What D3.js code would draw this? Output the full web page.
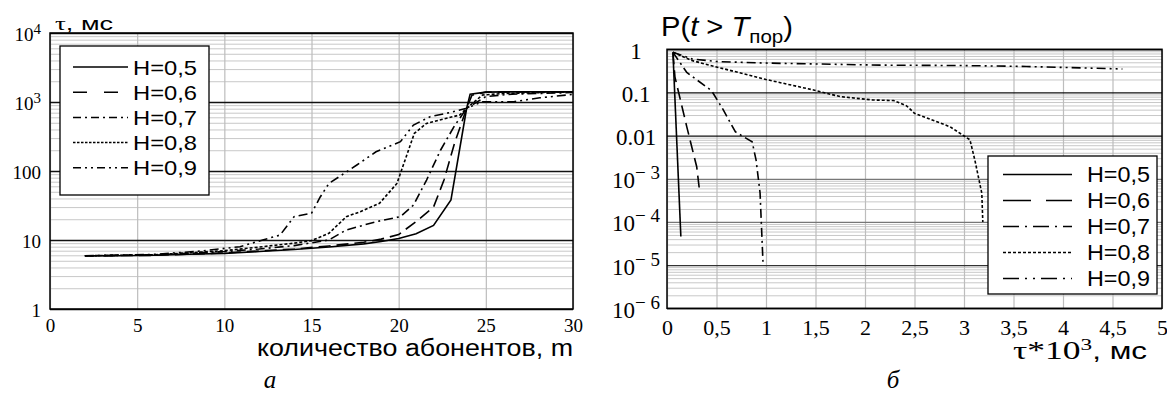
<!DOCTYPE html>
<html>
<head>
<meta charset="utf-8">
<script src="https://cdn.jsdelivr.net/npm/d3@7"></script>
<style>
  body { margin: 0; background: #fff; }
  svg { display: block; }
</style>
</head>
<body>
<script>
// ---- data ----
const seriesNames = ["H=0,5", "H=0,6", "H=0,7", "H=0,8", "H=0,9"];

// panel a: delay tau (ms) vs number of subscribers m
const aXTicks = [0, 5, 10, 15, 20, 25, 30];
const aYTicks = [1, 10, 100, 1000, 10000];
const aYLabels = [["1", ""], ["10", ""], ["100", ""], ["10", "3"], ["10", "4"]];
const aH05 = [[2, 5.9], [4, 5.9], [6, 6.0], [8, 6.2], [10, 6.4], [12, 6.8], [14, 7.3], [16, 7.9], [18, 8.8], [19, 9.5], [20, 10.5], [21, 12.3], [22, 16.3], [23, 38], [23.9, 811], [24.1, 1300], [25, 1390], [26, 1400], [30, 1400]];
const aH06 = [[2, 5.9], [6, 6.0], [10, 6.5], [14, 7.4], [16, 8.2], [18, 9.3], [19, 10.3], [20, 12], [21, 18.5], [22, 30], [22.6, 74], [23.2, 250], [23.9, 811], [24.2, 1250], [25, 1390], [30, 1400]];
const aH07 = [[2, 5.9], [6, 6.1], [10, 6.8], [12, 7.4], [14, 8.3], [15, 9.1], [16, 10], [17, 14], [18.7, 18.4], [20.1, 21.8], [20.85, 32], [21.6, 74], [22.4, 200], [23.2, 450], [23.9, 811], [25, 1200], [26.5, 1300], [30, 1370]];
const aH08 = [[2, 5.9], [6, 6.1], [10, 7.0], [12, 7.9], [14, 9.0], [15, 9.8], [16, 12.5], [17, 21.8], [17.8, 25.7], [18.9, 34], [19.9, 66], [20.9, 352], [21.6, 490], [23.5, 648], [23.9, 811], [24.8, 1260], [26, 1330], [30, 1400]];
const aH09 = [[2, 5.9], [6, 6.2], [8.6, 6.9], [10.9, 8.0], [12.2, 10], [13.2, 11.8], [14, 21.8], [15, 24.4], [15.5, 42], [16, 66], [16.6, 83], [17.6, 122], [18.7, 190], [20.1, 266], [20.85, 464], [21.8, 612], [23, 708], [23.9, 811], [24.8, 1010], [26.6, 1010], [28.1, 1150], [30, 1290]];
const aSeries = [aH05, aH06, aH07, aH08, aH09];

// panel b: probability P(t > T) vs tau*10^3 ms
const bXTicks = [0, 0.5, 1, 1.5, 2, 2.5, 3, 3.5, 4, 4.5, 5];
const bXLabels = ["0", "0,5", "1", "1,5", "2", "2,5", "3", "3,5", "4", "4,5", "5"];
const bYTicks = [1e-6, 1e-5, 1e-4, 1e-3, 0.01, 0.1, 1];
const bYLabels = [["10", "\u2212 6"], ["10", "\u2212 5"], ["10", "\u2212 4"], ["10", "\u2212 3"], ["0.01", ""], ["0.1", ""], ["1", ""]];
const bH05 = [[0.06, 0.85], [0.14, 4.6e-5]];
const bH06 = [[0.06, 0.85], [0.08, 0.23], [0.2, 0.016], [0.3, 0.0019], [0.33, 5e-4]];
const bH07 = [[0.06, 0.85], [0.2, 0.29], [0.45, 0.11], [0.57, 0.039], [0.69, 0.0123], [0.77, 0.0095], [0.86, 0.0072], [0.9, 0.0027], [0.94, 4.7e-4], [0.96, 3.9e-5], [0.97, 1.1e-5]];
const bH08 = [[0.06, 0.85], [0.25, 0.55], [0.5, 0.39], [1.0, 0.2], [1.48, 0.114], [1.75, 0.08], [2.08, 0.067], [2.29, 0.065], [2.42, 0.049], [2.5, 0.033], [2.86, 0.016], [3.06, 0.008], [3.11, 0.0027], [3.18, 4.6e-4], [3.19, 1.0e-4]];
const bH09 = [[0.06, 0.85], [0.25, 0.6], [0.5, 0.52], [1.0, 0.48], [2.15, 0.43], [3.0, 0.42], [3.63, 0.40], [4.6, 0.35]];
const bSeries = [bH05, bH06, bH07, bH08, bH09];

// ---- styles ----
const dashes = ["none", "12,6", "9,4,2,4", "3,2", "9,4,2,4,2,4"];
const sans = "Liberation Sans, Arial, sans-serif";
const serif = "Liberation Serif, Times New Roman, serif";

const svg = d3.select("body").append("svg")
  .attr("width", 1167)
  .attr("height", 396);

function minorTicks(lo, hi) {
  var out = [];
  for (var d = lo; d < hi; d++) {
    for (var k = 2; k <= 9; k++) out.push(k * Math.pow(10, d));
  }
  return out;
}

function drawPanel(cfg) {
  var x = d3.scaleLinear().domain(cfg.xDomain).range([cfg.left, cfg.right]);
  var y = d3.scaleLog().domain(cfg.yDomain).range([cfg.bottom, cfg.top]);
  var w = cfg.right - cfg.left;
  var h = cfg.bottom - cfg.top;
  var g = svg.append("g");

  // minor horizontal grid
  g.append("g")
    .attr("transform", "translate(" + cfg.left + ",0)")
    .call(d3.axisLeft(y).tickValues(cfg.minor).tickSize(-w).tickFormat(""))
    .call(s => s.select(".domain").remove())
    .selectAll("line").attr("stroke", "#c8c8c8").attr("stroke-width", 1);

  // vertical grid
  g.append("g")
    .attr("transform", "translate(0," + cfg.bottom + ")")
    .call(d3.axisBottom(x).tickValues(cfg.xTicks).tickSize(-h).tickFormat(""))
    .call(s => s.select(".domain").remove())
    .selectAll("line").attr("stroke", "#bdbdbd").attr("stroke-width", 1.2);

  // major horizontal grid
  g.append("g")
    .attr("transform", "translate(" + cfg.left + ",0)")
    .call(d3.axisLeft(y).tickValues(cfg.yTicks).tickSize(-w).tickFormat(""))
    .call(s => s.select(".domain").remove())
    .selectAll("line")
    .attr("stroke", d => cfg.majorColor(d))
    .attr("stroke-width", 1.3);

  // frame
  g.append("rect")
    .attr("x", cfg.left).attr("y", cfg.top)
    .attr("width", w).attr("height", h)
    .attr("fill", "none").attr("stroke", "#000").attr("stroke-width", 1.5);

  // curves
  var line = d3.line().x(d => x(d[0])).y(d => y(d[1]));
  g.append("g").selectAll("path")
    .data(cfg.series)
    .join("path")
    .attr("d", line)
    .attr("fill", "none")
    .attr("stroke", "#000")
    .attr("stroke-width", 1.6)
    .attr("stroke-dasharray", (d, i) => dashes[i]);

  // y tick labels
  var yl = g.append("g")
    .attr("transform", "translate(" + cfg.yLabelX + ",0)")
    .call(d3.axisLeft(y).tickValues(cfg.yTicks).tickSize(0).tickFormat(""));
  yl.select(".domain").remove();
  yl.selectAll(".tick text").remove();
  yl.selectAll(".tick").append("text")
    .attr("text-anchor", cfg.yLabelAnchor)
    .attr("y", cfg.yLabelDy)
    .style("font-family", serif)
    .style("font-size", cfg.yLabelSize + "px")
    .attr("fill", "#000")
    .each(function (d, i) {
      var lab = cfg.yLabels[i];
      var t = d3.select(this);
      t.append("tspan").text(lab[0]);
      if (lab[1]) {
        t.append("tspan")
          .attr("dy", -cfg.supRaise)
          .style("font-size", cfg.supSize + "px")
          .text(lab[1]);
      }
    });

  // x tick labels
  var xl = g.append("g")
    .attr("transform", "translate(0," + cfg.bottom + ")")
    .call(d3.axisBottom(x).tickValues(cfg.xTicks).tickSize(0)
      .tickFormat((d, i) => cfg.xLabels[i]));
  xl.select(".domain").remove();
  xl.selectAll(".tick text")
    .attr("y", cfg.xLabelDy)
    .attr("dy", 0)
    .style("font-family", serif)
    .style("font-size", cfg.xLabelSize + "px")
    .attr("fill", "#000");

  // legend
  var L = cfg.legend;
  var lg = g.append("g");
  lg.append("rect")
    .attr("x", L.x).attr("y", L.y)
    .attr("width", L.w).attr("height", L.h)
    .attr("fill", "#fff").attr("stroke", "#000").attr("stroke-width", 1.3);
  var rows = lg.selectAll("g.row")
    .data(seriesNames)
    .join("g")
    .attr("class", "row")
    .attr("transform", (d, i) => "translate(0," + (L.row0 + i * L.step) + ")");
  rows.append("line")
    .attr("x1", L.l1).attr("x2", L.l2)
    .attr("stroke", "#000").attr("stroke-width", 1.5)
    .attr("stroke-dasharray", (d, i) => L.dashes[i]);
  rows.append("text")
    .attr("x", L.tx).attr("y", L.size * 0.36)
    .attr("textLength", L.tw).attr("lengthAdjust", "spacingAndGlyphs")
    .style("font-family", sans).style("font-size", L.size + "px")
    .text(d => d);
}

// panel a
drawPanel({
  left: 50, right: 573, top: 33, bottom: 309,
  xDomain: [0, 30], yDomain: [1, 10000],
  xTicks: aXTicks, xLabels: aXTicks.map(String),
  yTicks: aYTicks, yLabels: aYLabels,
  minor: minorTicks(0, 4),
  majorColor: d => "#111",
  series: aSeries,
  yLabelX: 41, yLabelAnchor: "end", yLabelDy: 7, yLabelSize: 19,
  supRaise: 7, supSize: 15,
  xLabelDy: 23, xLabelSize: 19,
  legend: { x: 60, y: 46, w: 149, h: 149, row0: 67, step: 25.2, l1: 73, l2: 128, tx: 133, tw: 64, size: 21,
    dashes: ["none", "14,17", "8,4,2,4", "2.5,1.5", "8,4,2,4,2,4"] }
});

// panel b
drawPanel({
  left: 667, right: 1162, top: 49.3, bottom: 308.3,
  xDomain: [0, 5], yDomain: [1e-6, 1],
  xTicks: bXTicks, xLabels: bXLabels,
  yTicks: bYTicks, yLabels: bYLabels,
  minor: minorTicks(-6, 0),
  majorColor: d => (d >= 0.01 ? "#111" : (d <= 1e-5 ? "#333" : "#777")),
  series: bSeries,
  yLabelX: 636, yLabelAnchor: "middle", yLabelDy: 9, yLabelSize: 23,
  supRaise: 9, supSize: 19,
  xLabelDy: 27, xLabelSize: 22,
  legend: { x: 988, y: 156, w: 169, h: 138, row0: 174.5, step: 26, l1: 1003, l2: 1072, tx: 1087, tw: 63, size: 22,
    dashes: ["none", "28,15", "16,6,2,6", "3,2", "16,6,2,6,2,6"] }
});

// ---- titles ----
var ta = svg.append("text").attr("x", 55).attr("y", 30)
  .attr("textLength", 58).attr("lengthAdjust", "spacingAndGlyphs")
  .style("font-size", "19px");
ta.append("tspan").style("font-family", serif).text("\u03c4");
ta.append("tspan").style("font-family", sans).text(", \u043c\u0441");

svg.append("text")
  .attr("x", 573).attr("y", 356)
  .attr("text-anchor", "end")
  .attr("textLength", 316).attr("lengthAdjust", "spacingAndGlyphs")
  .style("font-family", sans).style("font-size", "23px")
  .text("\u043a\u043e\u043b\u0438\u0447\u0435\u0441\u0442\u0432\u043e \u0430\u0431\u043e\u043d\u0435\u043d\u0442\u043e\u0432, m");

svg.append("text")
  .attr("x", 270).attr("y", 388)
  .attr("text-anchor", "middle")
  .style("font-family", serif).style("font-style", "italic").style("font-size", "25px")
  .text("\u0430");

var tb = svg.append("text").attr("x", 661).attr("y", 36)
  .attr("textLength", 132).attr("lengthAdjust", "spacingAndGlyphs")
  .style("font-family", sans).style("font-size", "27px");
tb.append("tspan").text("P(");
tb.append("tspan").style("font-style", "italic").text("t");
tb.append("tspan").text(" > ");
tb.append("tspan").style("font-style", "italic").text("T");
tb.append("tspan").style("font-size", "19px").attr("dy", 7).text("\u043f\u043e\u0440");
tb.append("tspan").attr("dy", -7).text(")");

var xb = svg.append("text").attr("x", 1013).attr("y", 359)
  .attr("textLength", 134).attr("lengthAdjust", "spacingAndGlyphs")
  .style("font-size", "26px");
xb.append("tspan").style("font-family", serif).text("\u03c4*10");
xb.append("tspan").style("font-family", serif).style("font-size", "17px").attr("dy", -9).text("3");
xb.append("tspan").style("font-family", sans).style("font-size", "23px").attr("dy", 9).text(", \u043c\u0441");

svg.append("text")
  .attr("x", 893).attr("y", 388)
  .attr("text-anchor", "middle")
  .style("font-family", serif).style("font-style", "italic").style("font-size", "25px")
  .text("\u0431");
</script>
</body>
</html>
